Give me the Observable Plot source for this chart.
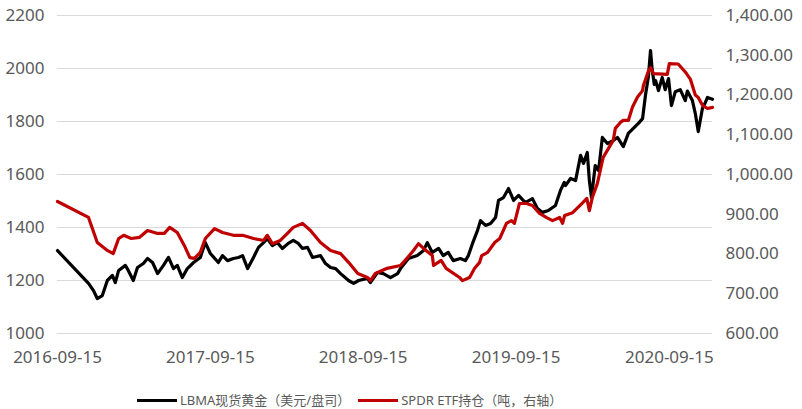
<!DOCTYPE html>
<html>
<head>
<meta charset="utf-8">
<script src="https://cdn.jsdelivr.net/npm/d3@7"></script>
<script src="https://cdn.jsdelivr.net/npm/@observablehq/plot@0.6"></script>
<style>
  html, body { margin: 0; padding: 0; background: #fff; }
  #wrap { position: relative; width: 802px; height: 409px; font-family: "Noto Sans", sans-serif; }
  #legend { position: absolute; left: 137px; top: 393px; width: 560px; height: 15px; display: flex; align-items: center; font-size: 13px; line-height: 15px; color: #595959; white-space: nowrap; font-family: "Noto Sans", "Noto Sans CJK SC", sans-serif; }
  .sw { display: inline-block; flex: none; width: 40px; height: 3px; margin-right: 3px; }
  .lt { flex: none; line-height: 15px; }
</style>
</head>
<body>
<div id="wrap">
  <div id="chart"></div>
  <div id="legend">
    <span class="sw" style="background:#000"></span><span class="lt">LBMA现货黄金（美元/盘司）</span>
    <span class="sw" style="background:#C00000;margin-left:8px"></span><span class="lt">SPDR ETF持仓（吨，右轴）</span>
  </div>
</div>
<script>
// LBMA spot gold (USD/oz), left axis
const goldDates = ["2016-09-15","2016-11-28","2016-12-10","2016-12-19","2016-12-31","2017-01-12","2017-01-24","2017-01-31","2017-02-08","2017-02-24","2017-03-03","2017-03-15","2017-03-25","2017-04-08","2017-04-18","2017-04-30","2017-05-12","2017-05-26","2017-06-07","2017-06-19","2017-06-28","2017-07-10","2017-07-22","2017-08-06","2017-08-22","2017-09-03","2017-09-15","2017-10-04","2017-10-14","2017-10-26","2017-11-09","2017-11-21","2017-12-01","2017-12-13","2017-12-27","2018-01-08","2018-01-20","2018-01-29","2018-02-10","2018-02-22","2018-03-06","2018-03-20","2018-04-01","2018-04-13","2018-04-23","2018-05-05","2018-05-17","2018-06-05","2018-06-17","2018-06-29","2018-07-11","2018-07-23","2018-08-11","2018-08-23","2018-09-04","2018-09-25","2018-10-02","2018-10-19","2018-11-02","2018-11-19","2018-12-06","2018-12-13","2019-01-01","2019-01-22","2019-02-06","2019-02-15","2019-02-27","2019-03-14","2019-03-25","2019-04-06","2019-04-18","2019-05-05","2019-05-17","2019-05-24","2019-06-03","2019-06-15","2019-06-22","2019-07-04","2019-07-16","2019-07-28","2019-08-04","2019-08-16","2019-08-28","2019-09-09","2019-09-21","2019-10-07","2019-10-24","2019-11-05","2019-11-17","2019-12-01","2019-12-18","2019-12-30","2020-01-08","2020-01-11","2020-01-23","2020-02-04","2020-02-16","2020-02-23","2020-03-03","2020-03-08","2020-03-13","2020-03-22","2020-03-30","2020-04-08","2020-04-20","2020-05-04","2020-05-14","2020-05-28","2020-06-09","2020-06-21","2020-07-03","2020-07-13","2020-07-20","2020-07-27","2020-08-01","2020-08-05","2020-08-10","2020-08-13","2020-08-20","2020-08-29","2020-09-05","2020-09-13","2020-09-20","2020-09-29","2020-10-11","2020-10-23","2020-10-28","2020-11-09","2020-11-16","2020-11-23","2020-12-03","2020-12-10","2020-12-15","2020-12-27"];
const goldValues = [1313,1189,1162,1132,1143,1200,1219,1192,1238,1257,1238,1200,1249,1264,1283,1268,1226,1257,1287,1245,1257,1211,1245,1268,1287,1343,1302,1268,1294,1275,1283,1287,1294,1245,1287,1325,1343,1358,1332,1343,1321,1340,1351,1340,1321,1325,1287,1294,1264,1249,1245,1226,1200,1189,1200,1208,1192,1230,1226,1211,1226,1245,1283,1294,1313,1343,1306,1321,1294,1306,1275,1283,1275,1294,1340,1389,1426,1408,1415,1438,1502,1513,1547,1502,1521,1494,1509,1472,1457,1464,1483,1540,1570,1558,1585,1577,1672,1642,1683,1577,1513,1634,1615,1740,1717,1728,1740,1705,1755,1774,1793,1811,1900,1970,2068,1995,1940,1955,1917,1966,1920,1962,1860,1912,1920,1879,1915,1879,1830,1762,1850,1872,1891,1884];

// SPDR ETF holdings (tonnes), right axis
const etfDates = ["2016-09-15","2016-11-28","2016-12-19","2017-01-12","2017-01-26","2017-02-08","2017-02-20","2017-03-10","2017-03-30","2017-04-18","2017-05-10","2017-05-28","2017-06-10","2017-06-28","2017-07-15","2017-07-28","2017-08-08","2017-08-22","2017-09-03","2017-09-25","2017-10-14","2017-11-09","2017-12-01","2017-12-27","2018-01-20","2018-01-29","2018-02-10","2018-03-01","2018-03-18","2018-04-01","2018-04-23","2018-05-12","2018-06-05","2018-06-29","2018-07-23","2018-08-11","2018-09-02","2018-09-25","2018-10-02","2018-10-14","2018-11-11","2018-12-13","2018-12-30","2019-01-13","2019-01-25","2019-02-06","2019-02-27","2019-03-02","2019-03-20","2019-04-01","2019-05-03","2019-05-10","2019-05-27","2019-06-08","2019-06-20","2019-06-25","2019-07-09","2019-07-26","2019-08-07","2019-08-23","2019-09-04","2019-09-11","2019-09-23","2019-10-10","2019-10-24","2019-11-10","2019-11-26","2019-12-11","2019-12-28","2020-01-04","2020-01-09","2020-01-28","2020-02-19","2020-03-02","2020-03-08","2020-03-15","2020-03-27","2020-04-03","2020-04-10","2020-05-04","2020-05-09","2020-05-21","2020-05-28","2020-06-09","2020-06-19","2020-07-01","2020-07-13","2020-07-15","2020-07-27","2020-08-01","2020-08-08","2020-09-10","2020-09-15","2020-10-06","2020-10-23","2020-11-04","2020-11-16","2020-11-23","2020-12-03","2020-12-15","2020-12-27"];
const etfValues = [932,892,829,809,801,839,847,839,842,859,852,852,867,854,821,791,789,804,839,864,854,847,847,839,834,847,826,834,852,867,877,859,829,809,801,779,751,741,733,751,764,771,791,809,826,814,796,771,784,764,741,733,741,764,779,796,804,829,839,877,884,877,927,927,922,902,892,884,892,877,897,904,927,940,909,942,977,1010,1043,1086,1116,1131,1136,1136,1170,1195,1211,1224,1260,1269,1254,1252,1279,1278,1258,1240,1200,1194,1174,1166,1169];

// tick values
const leftTicks = [1000,1200,1400,1600,1800,2000,2200];
const rightTicks = [600,700,800,900,1000,1100,1200,1300,1400];
const xTickLabels = ["2016-09-15","2017-09-15","2018-09-15","2019-09-15","2020-09-15"];

const parse = d3.utcParse("%Y-%m-%d");
const gold = goldDates.map((d, i) => ({date: parse(d), value: goldValues[i]}));
const etf = etfDates.map((d, i) => ({date: parse(d), value: etfValues[i]}));

// map right-axis (600–1400) onto left scale (1000–2200)
const toLeft = v => 1000 + (v - 600) * 1.5;
const fmtRight = d3.format(",.2f");

const chart = Plot.plot({
  width: 802,
  height: 380,
  marginLeft: 57,
  marginRight: 90,
  marginTop: 15,
  marginBottom: 47,
  style: {fontFamily: "Noto Sans, sans-serif", fontSize: "17px", color: "#595959", background: "#fff"},
  x: {type: "utc", domain: [parse("2016-09-15"), parse("2020-12-27")]},
  y: {domain: [1000, 2200]},
  marks: [
    Plot.gridY(leftTicks, {stroke: "#d9d9d9", strokeOpacity: 1, strokeWidth: 1}),
    Plot.axisY(leftTicks, {anchor: "left", tickSize: 0, tickPadding: 13, label: null, fill: "#595959", tickFormat: d => String(d)}),
    Plot.axisY(rightTicks.map(toLeft), {anchor: "right", tickSize: 0, tickPadding: 13, label: null, textAnchor: "start", fill: "#595959", tickFormat: d => fmtRight((d - 1000) / 1.5 + 600)}),
    Plot.axisX(xTickLabels.map(parse), {tickSize: 0, tickPadding: 17, label: null, fill: "#595959", tickFormat: d3.utcFormat("%Y-%m-%d")}),
    Plot.line(gold, {x: "date", y: "value", stroke: "#000", strokeWidth: 3.2, strokeLinejoin: "round"}),
    Plot.line(etf, {x: "date", y: d => toLeft(d.value), stroke: "#C00000", strokeWidth: 3.2, strokeLinejoin: "round"})
  ]
});
document.getElementById("chart").appendChild(chart);
</script>
</body>
</html>
